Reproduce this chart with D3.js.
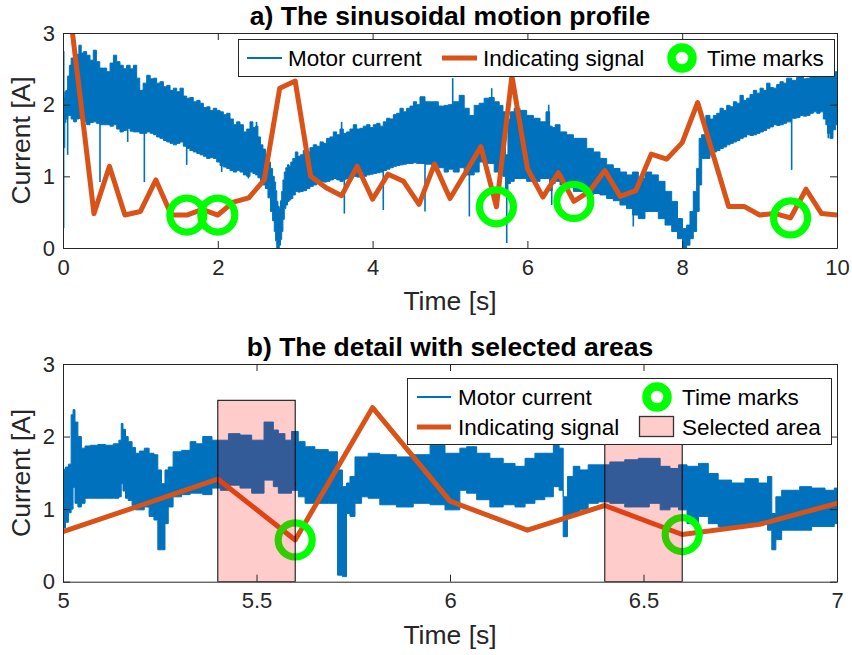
<!DOCTYPE html>
<html>
<head>
<meta charset="utf-8">
<script src="https://cdn.jsdelivr.net/npm/d3@7"></script>
<style>
  body { margin: 0; background: #fff; }
  svg { display: block; }
  text { font-family: "Liberation Sans", Arial, Helvetica, sans-serif; }
</style>
</head>
<body>
<svg id="chart" width="852" height="655"></svg>
<script>
// ---------- motor current, full run (envelope of the sampled signal) ----------
const overviewTime = [
  0.000, 0.017, 0.030, 0.045, 0.075, 0.090, 0.120, 0.155, 0.190, 0.220,
  0.250, 0.284, 0.327, 0.370, 0.413, 0.450, 0.500, 0.543, 0.586, 0.630,
  0.672, 0.715, 0.758, 0.800, 0.844, 0.890, 0.930, 0.973, 1.010, 1.060,
  1.103, 1.150, 1.189, 1.230, 1.275, 1.320, 1.361, 1.405, 1.447, 1.490,
  1.533, 1.575, 1.619, 1.660, 1.706, 1.750, 1.792, 1.835, 1.878, 1.920,
  1.964, 2.007, 2.050, 2.093, 2.136, 2.180, 2.222, 2.265, 2.309, 2.352,
  2.395, 2.437, 2.470, 2.502, 2.535, 2.566, 2.600, 2.631, 2.665, 2.696,
  2.720, 2.739, 2.755, 2.769, 2.785, 2.803, 2.818, 2.833, 2.850, 2.868,
  2.890, 2.911, 2.932, 2.954, 2.985, 3.019, 3.050, 3.083, 3.126, 3.169,
  3.212, 3.255, 3.300, 3.342, 3.385, 3.428, 3.471, 3.514, 3.557, 3.600,
  3.643, 3.686, 3.729, 3.772, 3.815, 3.858, 3.900, 3.945, 3.988, 4.031,
  4.075, 4.117, 4.160, 4.203, 4.246, 4.289, 4.332, 4.375, 4.418, 4.461,
  4.505, 4.548, 4.590, 4.634, 4.720, 4.806, 4.892, 4.957, 5.000, 5.086,
  5.151, 5.216, 5.280, 5.345, 5.409, 5.474, 5.539, 5.603, 5.668, 5.700,
  5.733, 5.765, 5.797, 5.862, 5.947, 6.034, 6.120, 6.206, 6.275, 6.300,
  6.340, 6.378, 6.465, 6.551, 6.637, 6.723, 6.809, 6.895, 6.981, 7.067,
  7.153, 7.239, 7.324, 7.390, 7.476, 7.562, 7.648, 7.735, 7.821, 7.907,
  7.971, 8.036, 8.079, 8.122, 8.165, 8.208, 8.230, 8.273, 8.337, 8.380,
  8.424, 8.467, 8.510, 8.553, 8.596, 8.640, 8.682, 8.725, 8.768, 8.811,
  8.854, 8.898, 8.941, 8.984, 9.027, 9.070, 9.113, 9.156, 9.199, 9.242,
  9.285, 9.328, 9.371, 9.457, 9.500, 9.544, 9.587, 9.630, 9.673, 9.716,
  9.760, 9.802, 9.845, 9.867, 9.888, 9.931, 9.965, 10.000
];
const overviewLow = [
  1.80, 1.40, 1.75, 1.80, 1.85, 1.85, 1.80, 1.76, 1.80, 1.81,
  1.78, 1.76, 1.72, 1.75, 1.76, 1.74, 1.72, 1.72, 1.72, 1.70,
  1.72, 1.66, 1.62, 1.64, 1.67, 1.63, 1.62, 1.62, 1.60, 1.60,
  1.62, 1.60, 1.58, 1.55, 1.53, 1.50, 1.48, 1.46, 1.44, 1.46,
  1.48, 1.42, 1.39, 1.36, 1.34, 1.32, 1.30, 1.28, 1.25, 1.26,
  1.25, 1.20, 1.15, 1.13, 1.11, 1.08, 1.06, 1.08, 1.06, 1.02,
  1.00, 1.06, 1.04, 1.02, 0.98, 0.93, 0.88, 0.83, 0.70, 0.51,
  0.38, 0.23, 0.10, 0.00, 0.00, 0.04, 0.12, 0.23, 0.40, 0.55,
  0.60, 0.65, 0.67, 0.69, 0.74, 0.79, 0.78, 0.79, 0.80, 0.83,
  0.86, 0.88, 0.90, 0.93, 0.92, 0.93, 0.95, 0.97, 0.95, 0.93,
  0.96, 0.97, 0.98, 1.00, 0.99, 1.01, 1.00, 1.02, 1.03, 1.04,
  1.05, 1.06, 1.08, 1.10, 1.12, 1.14, 1.15, 1.16, 1.17, 1.18,
  1.18, 1.19, 1.18, 1.18, 1.17, 1.15, 1.12, 1.06, 1.10, 1.06,
  1.12, 1.02, 1.02, 1.06, 1.20, 1.18, 1.18, 1.06, 1.02, 1.00,
  0.80, 0.90, 0.93, 0.97, 0.97, 0.93, 0.93, 0.97, 0.97, 0.80,
  0.90, 0.93, 0.88, 0.88, 0.79, 0.79, 0.74, 0.76, 0.74, 0.69,
  0.66, 0.60, 0.55, 0.46, 0.41, 0.51, 0.51, 0.41, 0.32, 0.23,
  0.13, 0.00, 0.04, 0.13, 0.23, 0.51, 0.88, 1.25, 1.25, 1.30,
  1.34, 1.36, 1.39, 1.41, 1.44, 1.46, 1.48, 1.50, 1.53, 1.55,
  1.58, 1.57, 1.58, 1.60, 1.62, 1.64, 1.67, 1.69, 1.72, 1.71,
  1.72, 1.74, 1.76, 1.81, 1.82, 1.85, 1.84, 1.85, 1.88, 1.90,
  1.88, 1.90, 1.80, 1.72, 1.60, 1.53, 1.65, 1.72
];
const overviewHigh = [
  2.74, 2.10, 2.18, 2.20, 2.40, 2.55, 2.65, 2.74, 2.70, 2.83,
  2.72, 2.74, 2.69, 2.62, 2.76, 2.60, 2.51, 2.51, 2.46, 2.58,
  2.69, 2.60, 2.55, 2.50, 2.55, 2.50, 2.55, 2.37, 2.20, 2.30,
  2.41, 2.36, 2.37, 2.30, 2.32, 2.25, 2.27, 2.20, 2.23, 2.18,
  2.23, 2.12, 2.09, 2.10, 2.04, 2.06, 2.02, 1.96, 1.97, 1.92,
  1.95, 1.92, 1.90, 1.86, 1.88, 1.80, 1.72, 1.76, 1.72, 1.62,
  1.66, 1.76, 1.68, 1.70, 1.55, 1.44, 1.38, 1.30, 1.20, 1.11,
  1.00, 0.92, 0.80, 0.65, 0.58, 0.55, 0.66, 0.79, 0.95, 1.06,
  1.12, 1.16, 1.14, 1.20, 1.25, 1.34, 1.28, 1.30, 1.36, 1.34,
  1.40, 1.44, 1.42, 1.48, 1.46, 1.53, 1.55, 1.62, 1.58, 1.66,
  1.60, 1.62, 1.66, 1.72, 1.66, 1.67, 1.70, 1.72, 1.68, 1.72,
  1.74, 1.70, 1.76, 1.81, 1.80, 1.86, 1.88, 1.95, 1.90, 1.95,
  1.98, 2.04, 2.00, 2.11, 2.04, 2.04, 1.98, 1.99, 2.00, 2.04,
  2.13, 1.95, 1.85, 1.99, 2.02, 2.09, 2.10, 2.04, 1.99, 1.90,
  1.30, 1.80, 1.90, 1.95, 1.92, 1.85, 1.81, 1.76, 1.90, 1.70,
  1.68, 1.72, 1.62, 1.58, 1.53, 1.53, 1.39, 1.34, 1.25, 1.16,
  1.11, 1.06, 1.02, 1.06, 0.97, 1.06, 1.02, 0.93, 0.79, 0.65,
  0.41, 0.27, 0.32, 0.51, 0.79, 1.11, 1.53, 1.58, 1.85, 1.80,
  1.85, 1.88, 1.95, 1.92, 1.99, 1.97, 2.04, 2.02, 2.13, 2.06,
  2.09, 2.14, 2.20, 2.16, 2.23, 2.20, 2.30, 2.24, 2.23, 2.28,
  2.32, 2.30, 2.37, 2.34, 2.38, 2.41, 2.36, 2.37, 2.42, 2.46,
  2.44, 2.46, 2.48, 2.51, 2.46, 2.46, 2.46, 2.46
];
// isolated current transients (single-sample excursions)
const transientTime = [0.008, 0.060, 0.478, 0.836, 1.051, 1.598, 2.050, 2.395, 2.500, 3.600, 3.635,
  4.138, 4.677, 5.035, 5.250, 5.539, 5.733, 6.275, 6.314, 7.368, 9.414, 9.888];
const transientLow = [0.28, 1.30, 0.92, 1.48, 0.92, 1.16, 1.06, 0.97, 1.30, 1.30, 0.48,
  0.53, 0.51, 1.50, 0.44, 1.50, 0.07, 1.50, 0.60, 0.30, 1.09, 1.53];
const transientHigh = [2.75, 2.00, 2.00, 2.00, 2.00, 1.80, 1.50, 1.40, 1.76, 1.76, 1.20,
  1.40, 1.60, 2.37, 1.50, 2.23, 1.20, 2.00, 1.20, 0.80, 2.00, 2.20];

// ---------- motor current, 5 s .. 7 s at full resolution ----------
const detailTime = [
  5.000, 5.003, 5.010, 5.018, 5.024, 5.028, 5.034, 5.043, 5.052, 5.062,
  5.080, 5.100, 5.120, 5.140, 5.149, 5.152, 5.158, 5.165, 5.172, 5.185,
  5.190, 5.205, 5.215, 5.230, 5.240, 5.250, 5.259, 5.268, 5.276, 5.293,
  5.320, 5.337, 5.350, 5.372, 5.398, 5.415, 5.440, 5.475, 5.500, 5.539,
  5.548, 5.565, 5.582, 5.599, 5.617, 5.634, 5.668, 5.703, 5.716, 5.728,
  5.737, 5.746, 5.763, 5.780, 5.797, 5.840, 5.883, 5.927, 5.970, 6.004,
  6.017, 6.034, 6.052, 6.086, 6.120, 6.155, 6.181, 6.207, 6.232, 6.258,
  6.276, 6.288, 6.297, 6.310, 6.327, 6.344, 6.370, 6.396, 6.430, 6.473,
  6.500, 6.530, 6.556, 6.581, 6.600, 6.625, 6.659, 6.676, 6.710, 6.745,
  6.779, 6.814, 6.827, 6.836, 6.848, 6.866, 6.890, 6.917, 6.952, 6.986,
  7.000
];
const detailLow = [
  1.30, 0.74, 0.82, 0.95, 1.00, 1.30, 1.08, 1.03, 1.08, 1.15,
  1.15, 1.15, 1.15, 1.15, 1.17, 1.35, 1.25, 1.15, 1.12, 1.05,
  0.99, 0.99, 1.03, 0.90, 0.85, 0.44, 0.44, 0.80, 1.03, 1.17,
  1.20, 1.22, 1.22, 1.20, 1.29, 1.26, 1.33, 1.29, 1.22, 1.40,
  1.31, 1.22, 1.22, 1.26, 1.17, 1.08, 1.08, 1.08, 0.09, 0.07,
  0.94, 0.90, 1.08, 1.17, 1.15, 1.06, 1.03, 1.08, 1.06, 0.99,
  0.99, 1.26, 1.22, 1.13, 1.03, 1.06, 1.03, 1.08, 1.13, 1.17,
  1.31, 1.26, 0.62, 0.90, 0.94, 0.99, 1.08, 1.10, 1.08, 1.03,
  1.03, 1.08, 0.99, 1.03, 0.99, 0.80, 0.90, 0.80, 0.76, 0.76,
  0.76, 0.80, 0.71, 0.44, 0.58, 0.71, 0.71, 0.71, 0.76, 0.76,
  0.80
];
const detailHigh = [
  1.95, 1.55, 1.58, 1.62, 2.30, 2.37, 2.20, 2.00, 1.84, 1.87,
  1.88, 1.89, 1.88, 1.90, 1.95, 2.18, 2.10, 2.00, 1.93, 1.85,
  1.77, 1.80, 1.84, 1.77, 1.75, 1.54, 1.35, 1.54, 1.58, 1.79,
  1.81, 1.93, 1.90, 2.00, 1.95, 1.95, 2.04, 2.02, 1.95, 2.20,
  2.09, 2.04, 1.95, 2.07, 1.93, 1.86, 1.82, 1.79, 1.54, 1.31,
  1.36, 1.45, 1.72, 1.72, 1.77, 1.75, 1.72, 1.75, 1.88, 1.77,
  1.77, 1.84, 1.86, 1.77, 1.70, 1.63, 1.59, 1.70, 1.77, 1.77,
  1.88, 1.84, 1.17, 1.45, 1.59, 1.54, 1.61, 1.61, 1.65, 1.68,
  1.70, 1.70, 1.59, 1.56, 1.61, 1.59, 1.63, 1.49, 1.40, 1.36,
  1.42, 1.36, 1.45, 0.94, 1.17, 1.26, 1.26, 1.31, 1.29, 1.26,
  1.29
];

// ---------- indicating signal (one value every 0.2 s) ----------
const signalTime = [
  0.0, 0.2, 0.4, 0.6, 0.8, 1.0, 1.2, 1.4, 1.6, 1.8,
  2.0, 2.2, 2.4, 2.6, 2.8, 3.0, 3.2, 3.4, 3.6, 3.8,
  4.0, 4.2, 4.4, 4.6, 4.8, 5.0, 5.2, 5.4, 5.6, 5.8,
  6.0, 6.2, 6.4, 6.6, 6.8, 7.0, 7.2, 7.4, 7.6, 7.8,
  8.0, 8.2, 8.4, 8.6, 8.8, 9.0, 9.2, 9.4, 9.6, 9.8,
  10.0
];
const signalValue = [
  4.10, 2.30, 0.48, 1.14, 0.46, 0.51, 0.95, 0.46, 0.46, 0.54,
  0.46, 0.64, 0.70, 0.95, 2.23, 2.33, 1.00, 0.84, 0.73, 1.14,
  0.68, 1.03, 0.93, 0.61, 1.17, 0.69, 1.05, 1.415, 0.575, 2.40,
  1.11, 0.71, 1.05, 0.65, 0.79, 1.08, 0.72, 0.80, 1.31, 1.24,
  1.47, 2.03, 1.30, 0.58, 0.58, 0.46, 0.48, 0.42, 0.82, 0.48,
  0.46
];

// ---------- time marks and selected areas ----------
const markTimes = [1.6, 2.0, 5.6, 6.6, 9.4];
const areaStart = [5.4, 6.4];
const areaEnd = [5.6, 6.6];
const areaTop = [2.5, 2.5];

// ---------- axis ticks ----------
const overviewTicksX = [0, 2, 4, 6, 8, 10];
const detailTicksX = [5, 5.5, 6, 6.5, 7];
const currentTicks = [0, 1, 2, 3];

const BLUE = "#0072BD", ORANGE = "#D95319", GREEN = "#00FF00", AXIS = "#262626";
const svg = d3.select("#chart");

function drawPanel(cfg) {
  const x = d3.scaleLinear().domain(cfg.xDomain).range([63, 837]);
  const y = d3.scaleLinear().domain([0, 3]).range([cfg.bottom, cfg.top]);
  const g = svg.append("g");
  const clipId = "clip-" + cfg.id;
  svg.append("defs").append("clipPath").attr("id", clipId)
    .append("rect").attr("x", 63).attr("y", cfg.top).attr("width", 774).attr("height", cfg.bottom - cfg.top);

  const plot = g.append("g").attr("clip-path", `url(#${clipId})`);

  // motor current band
  const idx = d3.range(cfg.time.length);
  const band = d3.area()
    .x(i => x(cfg.time[i]))
    .y0(i => y(cfg.low[i]))
    .y1(i => y(cfg.high[i]))
    .curve(d3.curveStep);
  plot.append("path").attr("d", band(idx))
    .attr("fill", BLUE).attr("stroke", BLUE).attr("stroke-width", 1);

  if (cfg.transients) {
    const tr = cfg.transients;
    plot.append("g").selectAll("line").data(d3.range(tr.time.length)).join("line")
      .attr("x1", i => x(tr.time[i])).attr("x2", i => x(tr.time[i]))
      .attr("y1", i => y(tr.low[i])).attr("y2", i => y(tr.high[i]))
      .attr("stroke", BLUE).attr("stroke-width", 1.6);
  }

  // indicating signal
  const line = d3.line().x(i => x(signalTime[i])).y(i => y(signalValue[i]));
  plot.append("path").attr("d", line(d3.range(signalTime.length)))
    .attr("fill", "none").attr("stroke", ORANGE).attr("stroke-width", 5).attr("stroke-linejoin", "round");

  // time marks
  const marks = markTimes.filter(t => t >= cfg.xDomain[0] && t <= cfg.xDomain[1]);
  plot.append("g").selectAll("circle").data(marks).join("circle")
    .attr("cx", t => x(t)).attr("cy", t => y(signalValue[signalTime.indexOf(t)]))
    .attr("r", 17).attr("fill", "none").attr("stroke", GREEN).attr("stroke-width", 7.2);

  // selected areas
  if (cfg.areas) {
    plot.append("g").selectAll("rect").data(d3.range(areaStart.length)).join("rect")
      .attr("x", i => x(areaStart[i])).attr("y", i => y(areaTop[i]))
      .attr("width", i => x(areaEnd[i]) - x(areaStart[i]))
      .attr("height", i => y(0) - y(areaTop[i]))
      .attr("fill", "rgba(255,0,0,0.2)").attr("stroke", "#000").attr("stroke-width", 1);
  }

  // axes box with inward ticks on all four sides
  const styleAxis = sel => {
    sel.selectAll(".domain").attr("stroke", AXIS).attr("stroke-width", 1);
    sel.selectAll(".tick line").attr("stroke", AXIS).attr("stroke-width", 1);
    sel.selectAll(".tick text").attr("fill", AXIS).style("font-size", "22px")
      .style("font-family", '"Liberation Sans", Arial, sans-serif');
  };
  g.append("g").attr("transform", `translate(0,${cfg.bottom})`)
    .call(d3.axisBottom(x).tickValues(cfg.ticksX).tickFormat(d3.format("~g"))
      .tickSizeInner(-7).tickSizeOuter(0).tickPadding(11)).call(styleAxis);
  g.append("g").attr("transform", `translate(0,${cfg.top})`)
    .call(d3.axisTop(x).tickValues(cfg.ticksX).tickFormat("")
      .tickSizeInner(-7).tickSizeOuter(0)).call(styleAxis);
  g.append("g").attr("transform", "translate(63,0)")
    .call(d3.axisLeft(y).tickValues(currentTicks).tickFormat(d3.format("d"))
      .tickSizeInner(-7).tickSizeOuter(0).tickPadding(8)).call(styleAxis);
  g.append("g").attr("transform", "translate(837,0)")
    .call(d3.axisRight(y).tickValues(currentTicks).tickFormat("")
      .tickSizeInner(-7).tickSizeOuter(0)).call(styleAxis);

  // labels and title
  g.append("text").attr("x", 450).attr("y", cfg.bottom + 62).attr("text-anchor", "middle")
    .attr("fill", AXIS).style("font-size", "26.5px").text("Time [s]");
  g.append("text").attr("transform", `translate(30,${(cfg.top + cfg.bottom) / 2}) rotate(-90)`)
    .attr("text-anchor", "middle").attr("fill", AXIS).style("font-size", "26.5px").text("Current [A]");
  g.append("text").attr("x", 450).attr("y", cfg.top - 8).attr("text-anchor", "middle")
    .attr("fill", "#000").style("font-size", "26.5px").style("font-weight", "bold").text(cfg.title);

  return g;
}

function legendLine(g, x1, x2, yy, color, w) {
  g.append("line").attr("x1", x1).attr("x2", x2).attr("y1", yy).attr("y2", yy)
    .attr("stroke", color).attr("stroke-width", w);
}
function legendText(g, xx, yy, s) {
  g.append("text").attr("x", xx).attr("y", yy).attr("fill", "#000").style("font-size", "22.5px").text(s);
}
function legendMark(g, cx, cy) {
  g.append("circle").attr("cx", cx).attr("cy", cy).attr("r", 10.5)
    .attr("fill", "none").attr("stroke", GREEN).attr("stroke-width", 8.5);
}

// a) full run
drawPanel({
  id: "a", xDomain: [0, 10], top: 33, bottom: 248, ticksX: overviewTicksX,
  time: overviewTime, low: overviewLow, high: overviewHigh,
  transients: { time: transientTime, low: transientLow, high: transientHigh },
  title: "a) The sinusoidal motion profile"
});
const legA = svg.append("g");
legA.append("rect").attr("x", 238.5).attr("y", 39.5).attr("width", 596).attr("height", 37)
  .attr("fill", "#fff").attr("stroke", AXIS).attr("stroke-width", 1);
legendLine(legA, 247, 282, 58, BLUE, 2);
legendText(legA, 288, 66, "Motor current");
legendLine(legA, 442, 477, 58, ORANGE, 5);
legendText(legA, 483, 66, "Indicating signal");
legendMark(legA, 682, 58);
legendText(legA, 707, 66, "Time marks");

// b) detail with selected areas
drawPanel({
  id: "b", xDomain: [5, 7], top: 364, bottom: 581.7, ticksX: detailTicksX,
  time: detailTime, low: detailLow, high: detailHigh,
  areas: true,
  title: "b) The detail with selected areas"
});
const legB = svg.append("g");
legB.append("rect").attr("x", 407.5).attr("y", 378.5).attr("width", 424).attr("height", 66)
  .attr("fill", "#fff").attr("stroke", AXIS).attr("stroke-width", 1);
legendLine(legB, 417, 451, 397, BLUE, 2);
legendText(legB, 458, 405, "Motor current");
legendLine(legB, 417, 451, 427, ORANGE, 5);
legendText(legB, 458, 435, "Indicating signal");
legendMark(legB, 657, 397);
legendText(legB, 682, 405, "Time marks");
legB.append("rect").attr("x", 639.5).attr("y", 416.5).attr("width", 34).attr("height", 20)
  .attr("fill", "rgba(255,0,0,0.2)").attr("stroke", "#333").attr("stroke-width", 1.3);
legendText(legB, 682, 435, "Selected area");
</script>
</body>
</html>
